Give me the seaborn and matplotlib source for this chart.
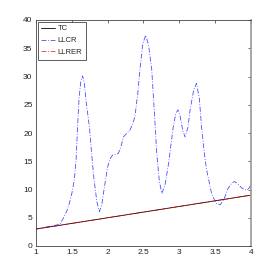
import matplotlib
matplotlib.use("Agg")
import matplotlib.pyplot as plt
import seaborn as sns
import pandas as pd

sns.set_style("white")
plt.rcParams['font.family'] = ['Liberation Sans', 'DejaVu Sans']

# TC / LLRER: straight line
tc_x = [1.0, 4.0]
tc_y = [3.0, 9.0]

# LLCR curve
llcr_x = [1.0, 1.335, 1.38, 1.43, 1.465, 1.50, 1.535, 1.56, 1.58, 1.60, 1.625, 1.65, 1.675, 1.70,
          1.745, 1.78, 1.81, 1.85, 1.885, 1.92, 1.955, 2.0, 2.04, 2.07, 2.11, 2.15, 2.19, 2.22,
          2.27, 2.31, 2.35, 2.38, 2.42, 2.45, 2.49, 2.53, 2.57, 2.615, 2.65, 2.685, 2.72, 2.755,
          2.80, 2.85, 2.915, 2.95, 2.98, 3.01, 3.05, 3.08, 3.12, 3.15, 3.20, 3.24, 3.28, 3.31,
          3.35, 3.38, 3.45, 3.51, 3.57, 3.62, 3.68, 3.73, 3.77, 3.81, 3.86, 3.90, 3.94, 3.97, 4.0]
llcr_y = [3.0, 3.84, 4.9, 6.2, 7.55, 9.3, 11.7, 15.5, 21.1, 26.0, 29.2, 30.1, 28.8, 25.5,
          21.1, 15.8, 11.7, 7.8, 6.1, 7.5, 10.5, 14.0, 15.6, 16.1, 16.2, 16.4, 17.8, 19.3,
          20.0, 20.5, 21.6, 22.9, 27.0, 31.2, 35.8, 37.3, 35.6, 31.2, 24.0, 16.4, 11.6, 9.3,
          10.8, 14.6, 21.1, 23.4, 24.1, 23.0, 20.3, 19.3, 21.0, 24.1, 27.6, 28.8, 26.0, 21.1,
          16.3, 13.5, 9.3, 7.6, 7.3, 8.2, 10.2, 11.1, 11.4, 11.1, 10.4, 10.0, 9.9, 10.2, 10.8]

x_ticks = [1, 1.5, 2, 2.5, 3, 3.5, 4]
x_labels = ["1", "1.5", "2", "2.5", "3", "3.5", "4"]
y_ticks = [0, 5, 10, 15, 20, 25, 30, 35, 40]

df_tc = pd.DataFrame({"x": tc_x, "y": tc_y})
df_llcr = pd.DataFrame({"x": llcr_x, "y": llcr_y})

fig = plt.figure(figsize=(2.77, 2.77), dpi=100)
ax = fig.add_axes([36/277, 31/277, 215/277, 226/277])

dashdot = (0, (6, 2, 1, 2))
sns.lineplot(data=df_tc, x="x", y="y", ax=ax, color="black", lw=0.6, label="TC")
sns.lineplot(data=df_llcr, x="x", y="y", ax=ax, color="blue", lw=0.6, alpha=0.7, label="LLCR")
ax.lines[-1].set_linestyle(dashdot)
sns.lineplot(data=df_tc, x="x", y="y", ax=ax, color="red", lw=0.6, alpha=0.8, label="LLRER")
ax.lines[-1].set_linestyle(dashdot)

ax.set_xlim(1, 4)
ax.set_ylim(0, 40)
ax.set_xticks(x_ticks)
ax.set_xticklabels(x_labels)
ax.set_yticks(y_ticks)
ax.set_xlabel("")
ax.set_ylabel("")
ax.tick_params(direction="in", length=2.5, width=0.5, labelsize=6, colors="#333333",
               top=True, right=True, pad=2.5)
ax.tick_params(axis="both", labelcolor="#222222")
for s in ax.spines.values():
    s.set_color("#444444")
    s.set_linewidth(0.6)
ax.spines["right"].set_color("#999999")
ax.spines["right"].set_linewidth(1.2)

leg = ax.legend(loc="upper left", fontsize=5.5, handlelength=1.8, handletextpad=0.4,
                borderpad=0.45, labelspacing=0.6, fancybox=False, framealpha=1,
                borderaxespad=0.2)
leg.get_frame().set_edgecolor("#444444")
leg.get_frame().set_linewidth(0.6)
hl = leg.get_lines()
hl[1].set_linestyle(dashdot)
hl[2].set_linestyle(dashdot)

fig.savefig("out.png", dpi=100)
